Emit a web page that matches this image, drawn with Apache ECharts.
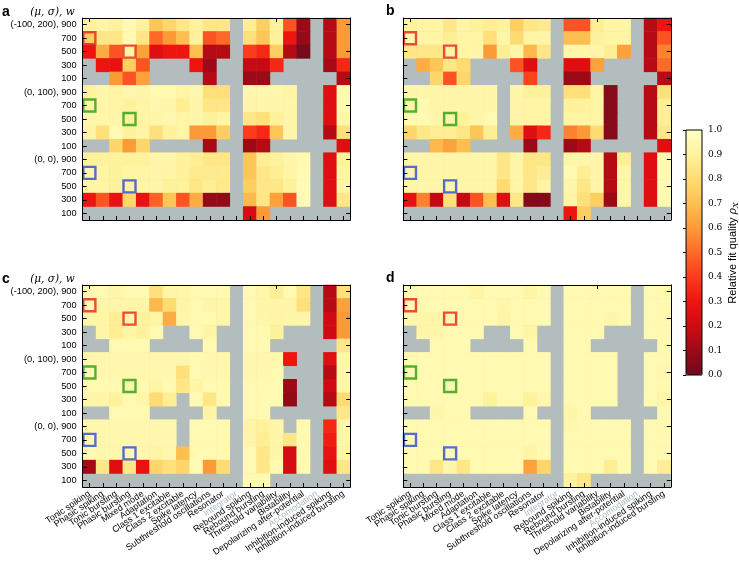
<!DOCTYPE html>
<html>
<head>
    <meta charset="utf-8">
    <title>fit quality</title>
    <script src="https://cdn.jsdelivr.net/npm/echarts@6/dist/echarts.min.js"></script>
    <style>
        html, body { margin: 0; padding: 0; background: #fff; }
        #main { width: 739px; height: 561px; }
    </style>
</head>
<body>
<div id="main"></div>
<script>
    // --- data (null = no value, drawn grey) ---
    var categories = ['Tonic spiking', 'Phasic spiking', 'Tonic bursting', 'Phasic bursting', 'Mixed mode',
        'Adaptation', 'Class 1 excitable', 'Class 2 excitable', 'Spike latency', 'Subthreshold oscillations',
        'Resonator', 'Integrator', 'Rebound spiking', 'Rebound bursting', 'Threshold variability',
        'Bistability', 'Depolarizing after-potential', 'Accomodation', 'Inhibition-induced spiking',
        'Inhibition-induced bursting'];
    var greyedCategories = ['Integrator', 'Accomodation'];
    var rowLabels = ['(-100, 200), 900', '700', '500', '300', '100',
        '(0, 100), 900', '700', '500', '300', '100',
        '(0, 0), 900', '700', '500', '300', '100'];
    var panelNames = ['a', 'b', 'c', 'd'];
    var colorbarTicks = [0, 0.1, 0.2, 0.3, 0.4, 0.5, 0.6, 0.7, 0.8, 0.9, 1.0];

    var N = null;
    var fitA = [
        [0.9, 0.92, 0.9, 0.95, 0.9, 0.72, 0.78, 0.85, 0.9, 0.85, 0.85, N, 0.88, 0.75, 0.9, 0.45, 0.1, N, 0.15, 0.6],
        [0.75, 0.85, 0.85, 0.95, 0.85, 0.5, 0.6, 0.7, 0.9, 0.45, 0.5, N, 0.82, 0.72, 0.9, 0.3, 0.08, N, 0.15, 0.6],
        [0.3, 0.65, 0.45, 0.92, 0.62, 0.25, 0.3, 0.3, 0.7, 0.15, 0.15, N, 0.4, 0.35, 0.75, 0.15, 0.02, N, 0.15, 0.6],
        [N, 0.3, 0.28, 0.75, 0.45, N, N, N, 0.3, 0.1, N, N, 0.18, 0.18, 0.35, N, N, N, 0.12, 0.35],
        [N, N, 0.6, 0.45, 0.62, N, N, N, N, 0.15, N, N, 0.1, 0.1, N, N, N, N, N, 0.15],
        [0.9, 0.93, 0.92, 0.94, 0.93, 0.95, 0.95, 0.92, 0.94, 0.82, 0.82, N, 0.94, 0.94, 0.94, 0.92, N, N, 0.25, 0.95],
        [0.92, 0.93, 0.92, 0.9, 0.92, 0.94, 0.93, 0.88, 0.93, 0.85, 0.85, N, 0.93, 0.93, 0.93, 0.93, N, N, 0.25, 0.95],
        [0.93, 0.93, 0.93, 0.9, 0.92, 0.93, 0.94, 0.92, 0.93, 0.9, 0.92, N, 0.85, 0.82, 0.9, 0.93, N, N, 0.25, 0.93],
        [0.92, 0.82, 0.95, 0.9, 0.92, 0.82, 0.9, 0.92, 0.6, 0.6, 0.75, N, 0.4, 0.35, 0.72, 0.93, N, N, 0.15, 0.82],
        [N, N, 0.78, 0.6, 0.78, N, N, N, N, 0.12, N, N, 0.1, 0.15, N, N, N, N, N, 0.25],
        [0.9, 0.9, 0.9, 0.9, 0.9, 0.93, 0.93, 0.9, 0.88, 0.85, 0.85, N, 0.72, 0.88, 0.9, 0.93, 0.95, N, 0.25, 0.9],
        [0.92, 0.92, 0.9, 0.92, 0.92, 0.93, 0.92, 0.9, 0.87, 0.87, 0.87, N, 0.72, 0.85, 0.88, 0.92, 0.96, N, 0.25, 0.92],
        [0.92, 0.92, 0.9, 0.9, 0.92, 0.93, 0.9, 0.9, 0.85, 0.88, 0.86, N, 0.75, 0.85, 0.85, 0.9, 0.96, N, 0.25, 0.92],
        [0.3, 0.45, 0.28, 0.78, 0.28, 0.48, 0.72, 0.45, 0.65, 0.08, 0.08, N, 0.68, 0.85, 0.62, 0.45, 0.96, N, 0.25, 0.85],
        [N, N, N, N, N, N, N, N, N, N, N, N, 0.22, 0.6, N, N, N, N, N, N]
    ];
    var fitB = [
        [0.9, 0.92, 0.92, 0.85, 0.92, 0.9, 0.88, 0.9, 0.75, 0.85, 0.87, N, 0.45, 0.45, 0.88, 0.92, 0.92, N, 0.15, 0.3],
        [0.95, 0.92, 0.92, 0.88, 0.92, 0.92, 0.82, 0.93, 0.8, 0.92, 0.92, N, 0.7, 0.7, 0.9, 0.92, 0.92, N, 0.15, 0.45],
        [0.85, 0.85, 0.85, 0.92, 0.92, 0.93, 0.6, 0.88, 0.93, 0.68, 0.85, N, 0.93, 0.93, 0.93, 0.88, 0.62, N, 0.15, 0.55],
        [N, 0.65, 0.72, 0.85, 0.8, N, N, N, 0.45, 0.25, N, N, 0.25, 0.25, 0.62, N, N, N, 0.15, 0.5],
        [N, N, 0.78, 0.45, 0.78, N, N, N, N, 0.42, N, N, 0.1, 0.1, N, N, N, N, N, 0.15],
        [0.93, 0.93, 0.93, 0.93, 0.93, 0.93, 0.93, N, 0.93, 0.9, 0.9, N, 0.82, 0.82, 0.92, 0.05, N, N, 0.15, 0.82],
        [0.93, 0.95, 0.93, 0.93, 0.93, 0.93, 0.93, N, 0.93, 0.92, 0.92, N, 0.9, 0.9, 0.92, 0.05, N, N, 0.15, 0.88],
        [0.95, 0.95, 0.93, 0.93, 0.9, 0.93, 0.95, N, 0.93, 0.92, 0.92, N, 0.92, 0.92, 0.92, 0.05, N, N, 0.15, 0.88],
        [0.78, 0.85, 0.88, 0.88, 0.85, 0.72, 0.88, N, 0.65, 0.25, 0.35, N, 0.55, 0.6, 0.8, 0.05, N, N, 0.15, 0.85],
        [N, N, 0.68, 0.62, 0.7, N, N, N, N, 0.1, N, N, 0.1, 0.15, N, N, N, N, N, 0.25],
        [0.93, 0.93, 0.93, 0.93, 0.93, 0.93, 0.93, 0.85, 0.93, 0.85, 0.85, N, 0.93, 0.93, 0.93, 0.15, 0.88, N, 0.25, 0.95],
        [0.93, 0.93, 0.93, 0.93, 0.93, 0.93, 0.93, 0.85, 0.93, 0.85, 0.88, N, 0.95, 0.88, 0.93, 0.15, 0.93, N, 0.25, 0.95],
        [0.93, 0.93, 0.93, 0.93, 0.93, 0.93, 0.93, 0.8, 0.93, 0.85, 0.92, N, 0.93, 0.85, 0.93, 0.15, 0.93, N, 0.25, 0.95],
        [0.28, 0.55, 0.18, 0.82, 0.18, 0.45, 0.7, 0.25, 0.85, 0.05, 0.05, N, 0.92, 0.82, 0.75, 0.1, 0.93, N, 0.25, 0.95],
        [N, N, N, N, N, N, N, N, N, N, N, N, 0.3, 0.75, N, N, N, N, N, N]
    ];
    var fitC = [
        [0.95, 0.95, 0.93, 0.95, 0.95, 0.82, 0.92, 0.93, 0.95, 0.95, 0.95, N, 0.95, 0.93, 0.88, 0.95, 0.85, N, 0.15, 0.82],
        [0.95, 0.93, 0.93, 0.93, 0.93, 0.68, 0.8, 0.92, 0.95, 0.93, 0.93, N, 0.95, 0.93, 0.93, 0.93, 0.82, N, 0.15, 0.62],
        [0.93, 0.92, 0.88, 0.93, 0.9, 0.92, 0.65, 0.93, 0.95, 0.95, 0.93, N, 0.95, 0.93, 0.92, 0.93, 0.93, N, 0.2, 0.6],
        [N, 0.93, 0.88, 0.92, 0.9, 0.95, N, N, 0.95, 0.92, N, N, 0.95, 0.95, 0.9, N, N, N, 0.2, 0.6],
        [N, N, 0.95, 0.95, 0.95, N, N, N, N, 0.95, N, N, 0.95, 0.95, N, N, N, N, N, 0.85],
        [0.94, 0.94, 0.94, 0.94, 0.94, 0.94, 0.94, 0.94, 0.95, 0.94, 0.94, N, 0.94, 0.94, 0.94, 0.3, N, N, 0.25, 0.93],
        [0.95, 0.94, 0.94, 0.94, 0.94, 0.94, 0.94, 0.82, 0.95, 0.94, 0.94, N, 0.94, 0.94, 0.95, N, N, N, 0.15, 0.93],
        [0.95, 0.95, 0.95, 0.93, 0.95, 0.92, 0.95, 0.85, 0.92, 0.95, 0.95, N, 0.95, 0.95, 0.95, 0.1, N, N, 0.2, 0.93],
        [0.93, 0.93, 0.9, 0.95, 0.93, 0.8, 0.88, N, 0.95, 0.85, 0.95, N, 0.95, 0.95, 0.95, 0.08, N, N, 0.15, 0.8],
        [N, N, 0.95, 0.95, 0.95, N, N, N, N, 0.92, N, N, 0.95, 0.95, N, N, N, N, N, 0.85],
        [0.94, 0.94, 0.94, 0.94, 0.94, 0.94, 0.94, N, 0.95, 0.95, 0.95, N, 0.92, 0.9, 0.93, N, 0.95, N, 0.35, 0.93],
        [0.95, 0.94, 0.94, 0.94, 0.94, 0.94, 0.94, N, 0.95, 0.95, 0.95, N, 0.93, 0.88, 0.93, 0.85, 0.95, N, 0.32, 0.93],
        [0.95, 0.94, 0.94, 0.94, 0.94, 0.92, 0.94, 0.7, 0.95, 0.95, 0.95, N, 0.95, 0.85, 0.93, 0.22, 0.95, N, 0.28, 0.92],
        [0.12, 0.85, 0.25, 0.85, 0.28, 0.78, 0.82, 0.78, 0.95, 0.6, 0.8, N, 0.95, 0.85, 0.95, 0.22, 0.95, N, 0.25, 0.85],
        [N, N, N, N, N, N, N, N, N, N, N, N, 0.95, 0.95, N, N, N, N, N, N]
    ];
    var fitD = [
        [0.95, 0.95, 0.95, 0.95, 0.95, 0.92, 0.95, 0.95, 0.95, 0.92, 0.95, N, 0.95, 0.95, 0.95, 0.95, 0.95, N, 0.95, 0.95],
        [0.95, 0.95, 0.95, 0.95, 0.95, 0.95, 0.95, 0.93, 0.95, 0.95, 0.95, N, 0.95, 0.95, 0.95, 0.95, 0.95, N, 0.95, 0.95],
        [0.94, 0.93, 0.93, 0.95, 0.95, 0.95, 0.95, 0.92, 0.95, 0.95, 0.95, N, 0.95, 0.95, 0.95, 0.93, 0.95, N, 0.95, 0.95],
        [N, 0.93, 0.93, 0.95, 0.95, 0.95, N, N, 0.95, 0.92, N, N, 0.95, 0.95, 0.95, N, N, N, 0.95, 0.95],
        [N, N, 0.95, 0.95, 0.95, N, N, N, N, 0.95, N, N, 0.95, 0.95, N, N, N, N, N, 0.95],
        [0.95, 0.95, 0.95, 0.95, 0.95, 0.95, 0.95, 0.95, 0.95, 0.95, 0.95, N, 0.95, 0.95, 0.95, 0.95, N, N, 0.95, 0.95],
        [0.95, 0.95, 0.95, 0.95, 0.95, 0.95, 0.95, 0.95, 0.95, 0.95, 0.95, N, 0.95, 0.95, 0.95, 0.95, N, N, 0.95, 0.94],
        [0.95, 0.95, 0.95, 0.95, 0.95, 0.95, 0.95, 0.95, 0.95, 0.95, 0.95, N, 0.95, 0.95, 0.95, 0.95, N, N, 0.95, 0.95],
        [0.95, 0.95, 0.95, 0.95, 0.95, 0.95, 0.9, 0.95, 0.95, 0.9, 0.94, N, 0.95, 0.95, 0.95, 0.95, N, N, 0.95, 0.93],
        [N, N, 0.93, 0.95, 0.95, N, N, N, N, 0.95, N, N, 0.93, 0.95, N, N, N, N, N, 0.95],
        [0.95, 0.95, 0.95, 0.95, 0.95, 0.95, 0.95, 0.95, 0.95, 0.95, 0.95, N, 0.94, 0.95, 0.95, 0.95, 0.95, N, 0.95, 0.95],
        [0.95, 0.95, 0.95, 0.95, 0.95, 0.95, 0.95, 0.95, 0.95, 0.95, 0.95, N, 0.95, 0.95, 0.95, 0.95, 0.95, N, 0.95, 0.95],
        [0.95, 0.95, 0.95, 0.95, 0.95, 0.95, 0.95, 0.95, 0.95, 0.92, 0.95, N, 0.95, 0.95, 0.95, 0.95, 0.95, N, 0.95, 0.95],
        [0.95, 0.95, 0.85, 0.93, 0.85, 0.95, 0.95, 0.95, 0.95, 0.62, 0.78, N, 0.95, 0.95, 0.95, 0.88, 0.95, N, 0.95, 0.88],
        [N, N, N, N, N, N, N, N, N, N, N, N, 0.9, 0.85, N, N, N, N, N, N]
    ];
    var panels = [fitA, fitB, fitC, fitD];

    // highlighted cells (same in every panel)
    var boxCol = [0, 3, 0, 3, 0, 3];
    var boxRow = [1, 2, 6, 7, 11, 12];
    var boxGroup = [0, 0, 1, 1, 2, 2];

    // --- styling ---
    var boxColours = ['#e3221c', '#2b9c12', '#2a48d8'];
    var cmap = ['#6e0a1c', '#9c0a18', '#cf0a12', '#ee1410', '#fb3b1c', '#fd6a28',
        '#fd9a38', '#febf50', '#ffdc72', '#fff29c', '#ffffc8'];
    var nanGrey = '#b3bdbd';
    var sans = 'Liberation Sans, Arial, sans-serif';
    var gridPos = [[82.7, 18], [403.3, 18], [82.7, 285], [403.3, 285]];
    var letterPos = [[2, 5], [386, 4], [2, 272], [386, 271]];
    var gridW = 267.5, gridH = 202;

    function cells(m) {
        var out = [];
        m.forEach(function (row, y) {
            row.forEach(function (v, x) {
                if (v !== null) out.push([x, y, v]);
            });
        });
        return out;
    }

    var tick = {show: true, inside: true, alignWithLabel: true, length: 4, lineStyle: {color: '#000', width: 1}};
    var line = {show: true, lineStyle: {color: '#000', width: 1}};

    var grids = [], xAxes = [], yAxes = [], series = [], graphics = [];
    for (var p = 0; p < 4; p++) {
        grids.push({
            left: gridPos[p][0], top: gridPos[p][1], width: gridW, height: gridH,
            show: true, backgroundColor: nanGrey, borderWidth: 0
        });
        var showX = p >= 2, showY = p % 2 === 0;
        xAxes.push({
            type: 'category', gridIndex: p, data: categories, position: 'bottom', z: 10,
            axisLine: line, axisTick: tick, splitLine: {show: false},
            axisLabel: {
                show: showX, interval: 0, rotate: 34, margin: 6, fontSize: 9, fontFamily: sans,
                color: function (v) {
                    return greyedCategories.indexOf(v) >= 0 ? '#a9b9bf' : '#000';
                }
            }
        });
        xAxes.push({
            type: 'category', gridIndex: p, data: categories, position: 'top', z: 10,
            axisLine: line, axisTick: tick, axisLabel: {show: false}, splitLine: {show: false}
        });
        yAxes.push({
            type: 'category', gridIndex: p, data: rowLabels, inverse: true, position: 'left', z: 10,
            axisLine: line, axisTick: tick, splitLine: {show: false},
            axisLabel: {show: showY, interval: 0, margin: 6, fontSize: 9.3, fontFamily: sans, color: '#000'}
        });
        yAxes.push({
            type: 'category', gridIndex: p, data: rowLabels, inverse: true, position: 'right', z: 10,
            axisLine: line, axisTick: tick, axisLabel: {show: false}, splitLine: {show: false}
        });
        series.push({
            type: 'heatmap', xAxisIndex: 2 * p, yAxisIndex: 2 * p,
            data: cells(panels[p]), itemStyle: {borderWidth: 0}, emphasis: {disabled: true}
        });
    }
    for (p = 0; p < 4; p++) {
        series.push({
            type: 'scatter', xAxisIndex: 2 * p, yAxisIndex: 2 * p, symbol: 'rect', symbolSize: 12, z: 5,
            data: boxCol.map(function (c, i) {
                return {
                    value: [c, boxRow[i]],
                    itemStyle: {color: 'rgba(0,0,0,0)', borderColor: boxColours[boxGroup[i]], borderWidth: 2.4}
                };
            })
        });
        graphics.push({
            type: 'text', x: letterPos[p][0], y: letterPos[p][1],
            style: {text: panelNames[p], font: 'bold 14px ' + sans, fill: '#000'}
        });
        if (p % 2 === 0) {
            graphics.push({
                type: 'text', x: gridPos[p][0] - 8, y: gridPos[p][1] - 0.5,
                style: {
                    text: '(μ, σ), w', font: 'italic 10.5px DejaVu Serif', fill: '#000',
                    align: 'right', verticalAlign: 'bottom'
                }
            });
        }
    }

    // colour bar axis
    grids.push({left: 686, top: 130, width: 16, height: 245, show: false});
    xAxes.push({type: 'value', gridIndex: 4, show: false});
    yAxes.push({
        type: 'value', gridIndex: 4, min: colorbarTicks[0], max: colorbarTicks[colorbarTicks.length - 1],
        interval: 0.1, position: 'right', z: 10,
        axisLine: {show: false}, splitLine: {show: false},
        axisTick: {show: true, inside: true, length: 3, lineStyle: {color: '#000'}},
        axisLabel: {
            margin: 6, fontSize: 9, fontFamily: 'DejaVu Serif', color: '#000',
            formatter: function (v) { return v.toFixed(1); }
        }
    });
    graphics.push({
        type: 'rect', z: 100, shape: {x: 686, y: 130, width: 16, height: 245},
        style: {fill: 'none', stroke: '#000', lineWidth: 1}
    });
    graphics.push({
        type: 'text', x: 733, y: 253, rotation: Math.PI / 2,
        style: {
            text: 'Relative fit quality {r|ρ}{s|X}', font: '11px ' + sans, fill: '#000',
            align: 'center', verticalAlign: 'middle',
            rich: {
                r: {fontFamily: 'DejaVu Serif', fontStyle: 'italic', fontSize: 11, fill: '#000'},
                s: {fontFamily: 'DejaVu Serif', fontStyle: 'italic', fontSize: 8, fill: '#000', padding: [6, 0, 0, 0]}
            }
        }
    });

    var myChart = echarts.init(document.getElementById('main'));
    myChart.setOption({
        animation: false,
        backgroundColor: '#fff',
        grid: grids,
        xAxis: xAxes,
        yAxis: yAxes,
        visualMap: {
            type: 'continuous', min: 0, max: 1, seriesIndex: [0, 1, 2, 3],
            calculable: false, hoverLink: false, orient: 'vertical', padding: 0,
            left: 686, top: 130, itemWidth: 16, itemHeight: 245, z: 1,
            inRange: {color: cmap}, textStyle: {color: 'transparent'}
        },
        series: series,
        graphic: graphics
    });
</script>
</body>
</html>
